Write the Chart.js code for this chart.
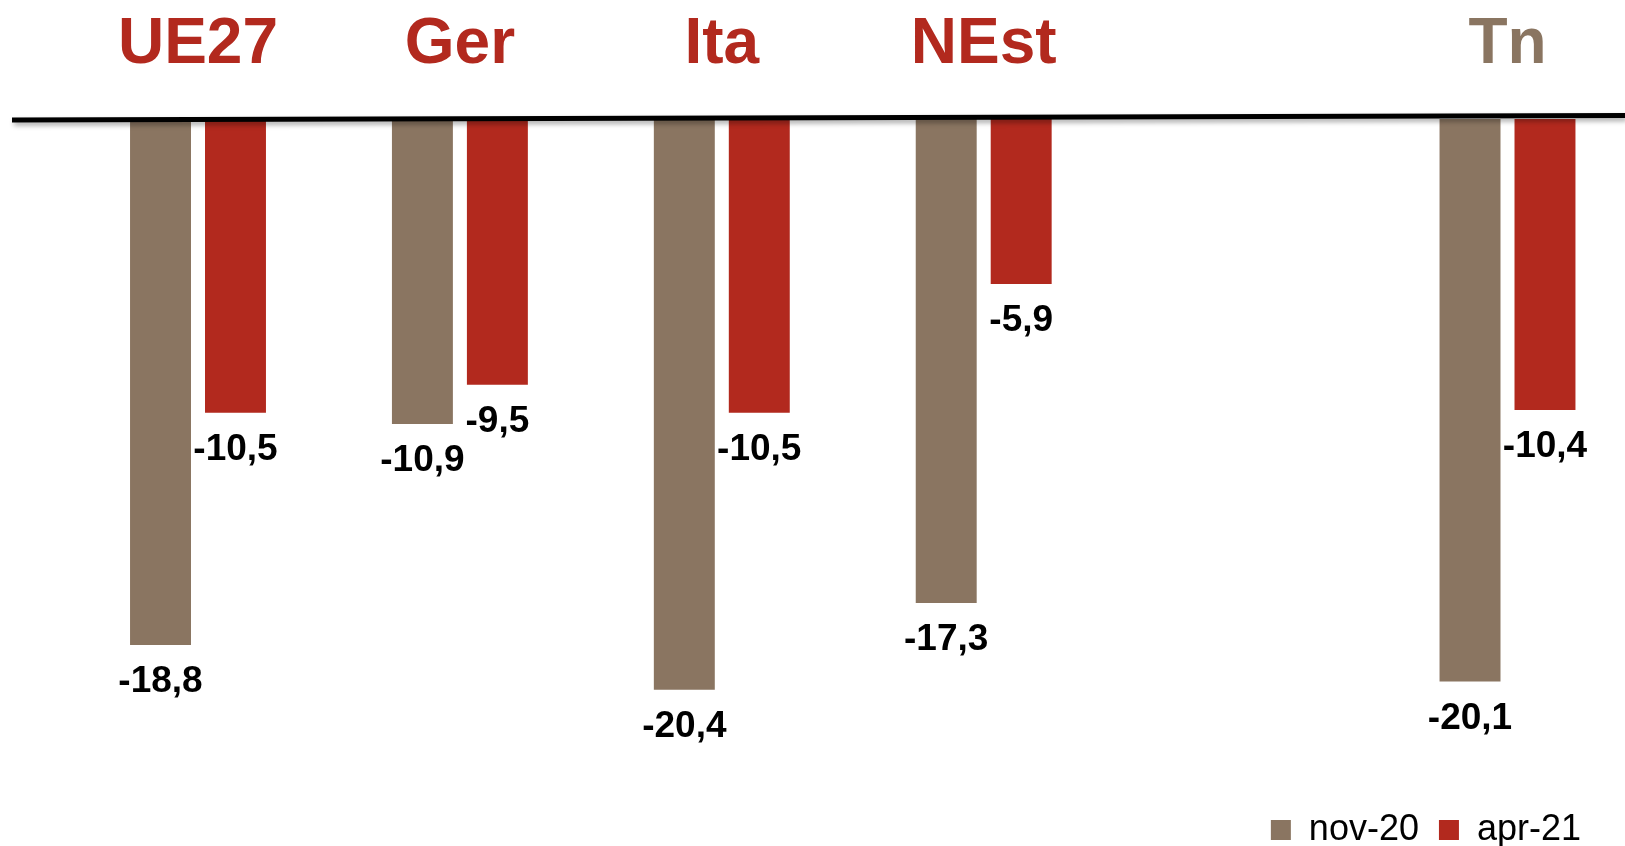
<!DOCTYPE html>
<html lang="it">
<head>
  <meta charset="UTF-8">
  <title>UE27 / Ger / Ita / NEst / Tn</title>
  <style>
    html, body {
      margin: 0;
      padding: 0;
      background: #fff;
      overflow: hidden;
    }
    #wrap {
      width: 1625px;
      height: 846px;
      position: relative;
    }
  </style>
</head>
<body>
  <div id="wrap">
    <canvas id="chart"></canvas>
  </div>

  <script src="https://cdn.jsdelivr.net/npm/chart.js@4/dist/chart.umd.min.js"></script>
  <script>
    // categories (one empty slot between NEst and Tn, as in the original)
    const categories = ['UE27', 'Ger', 'Ita', 'NEst', '', 'Tn'];
    const nov20 = [-18.8, -10.9, -20.4, -17.3, null, -20.1];
    const apr21 = [-10.5, -9.5, -10.5, -5.9, null, -10.4];

    const BROWN = '#8a7561';
    const RED = '#b2291e';
    const FONT = "'Liberation Sans', Arial, sans-serif";

    const fmt = v => v.toFixed(1).replace('.', ',');

    // thick black zero line with a soft shadow
    const zeroLine = {
      id: 'zeroLine',
      afterDatasetsDraw(chart) {
        const ctx = chart.ctx;
        const y0 = chart.scales.y.getPixelForValue(0);
        ctx.save();
        ctx.shadowColor = 'rgba(0,0,0,0.35)';
        ctx.shadowBlur = 5;
        ctx.shadowOffsetX = 2;
        ctx.shadowOffsetY = 3;
        ctx.strokeStyle = '#000';
        ctx.lineWidth = 5;
        ctx.beginPath();
        ctx.moveTo(12, y0 + 1);
        ctx.lineTo(chart.width, y0 - 3.5);
        ctx.stroke();
        ctx.restore();
      }
    };

    // value labels under each bar
    const valueLabels = {
      id: 'valueLabels',
      afterDatasetsDraw(chart) {
        const ctx = chart.ctx;
        ctx.save();
        ctx.font = 'bold 37px ' + FONT;
        ctx.fillStyle = '#000';
        ctx.textAlign = 'center';
        ctx.textBaseline = 'middle';
        chart.data.datasets.forEach((ds, i) => {
          chart.getDatasetMeta(i).data.forEach((bar, j) => {
            const v = ds.data[j];
            if (v === null) return;
            ctx.fillText(fmt(v), bar.x, bar.y + 37);
          });
        });
        ctx.restore();
      }
    };

    new Chart(document.getElementById('chart'), {
      type: 'bar',
      data: {
        labels: categories,
        datasets: [{
          label: 'nov-20',
          data: nov20,
          backgroundColor: BROWN,
          borderWidth: 0,
          clip: false
        }, {
          label: 'apr-21',
          data: apr21,
          backgroundColor: RED,
          borderWidth: 0,
          clip: false
        }]
      },
      options: {
        responsive: true,
        maintainAspectRatio: false,
        animation: false,
        events: [],
        categoryPercentage: 0.5725,
        barPercentage: 0.813,
        layout: {
          padding: { left: 0, right: 24, top: 0, bottom: -12 }
        },
        scales: {
          x: {
            position: 'top',
            offset: false,
            grid: { display: false },
            border: { display: false },
            ticks: {
              autoSkip: false,
              maxRotation: 0,
              padding: 27,
              font: { family: FONT, size: 64, weight: 'bold', lineHeight: 1.2 },
              color: c => categories[c.index] === 'Tn' ? BROWN : RED
            },
            afterFit: s => { s.height = 119; }
          },
          y: {
            min: -24.05,
            max: 0,
            grid: { display: false },
            border: { display: false },
            ticks: { display: false },
            afterFit: s => { s.width = 198; }
          },
          y2: {
            position: 'right',
            min: -24.05,
            max: 0,
            grid: { display: false },
            border: { display: false },
            ticks: { display: false },
            afterFit: s => { s.width = 93.5; }
          }
        },
        plugins: {
          legend: {
            position: 'bottom',
            align: 'end',
            labels: {
              boxWidth: 20,
              boxHeight: 20,
              padding: 20,
              color: '#000',
              font: { family: FONT, size: 36 }
            }
          },
          tooltip: { enabled: false }
        }
      },
      plugins: [zeroLine, valueLabels]
    });
  </script>
</body>
</html>
